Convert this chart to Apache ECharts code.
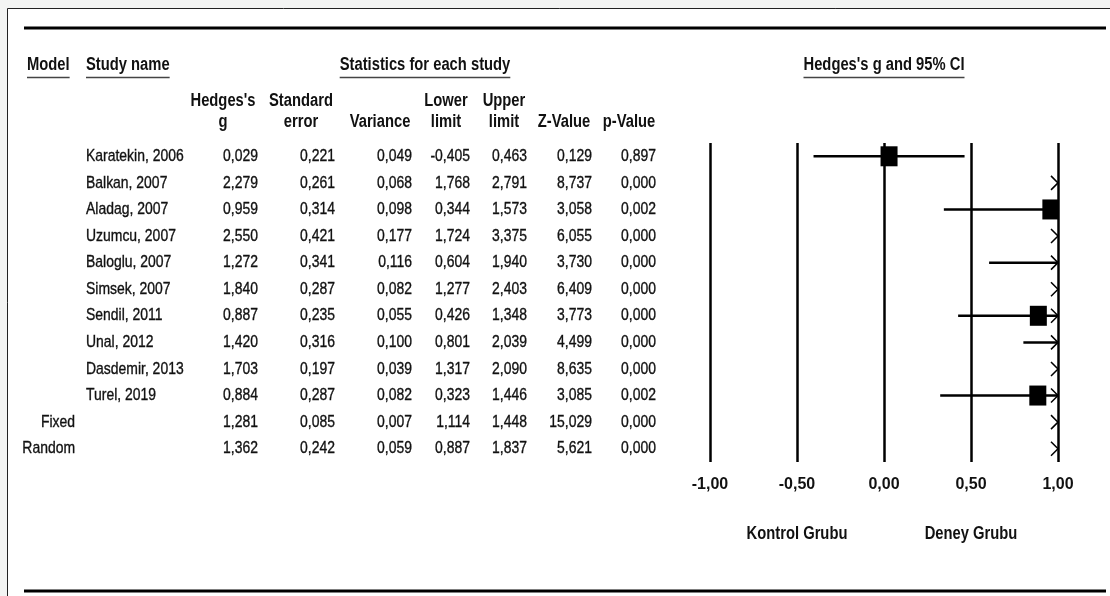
<!DOCTYPE html>
<html>
<head>
<meta charset="utf-8">
<title>Forest plot</title>
<script src="https://cdn.jsdelivr.net/npm/echarts@6/dist/echarts.min.js"></script>
<style>
  html, body { margin: 0; padding: 0; background: #f3f4f3; }
  #main { width: 1110px; height: 596px; }
</style>
</head>
<body>
<div id="main"></div>
<script>
// ---- data ----
var studies = ['Karatekin, 2006', 'Balkan, 2007', 'Aladag, 2007', 'Uzumcu, 2007', 'Baloglu, 2007',
    'Simsek, 2007', 'Sendil, 2011', 'Unal, 2012', 'Dasdemir, 2013', 'Turel, 2019'];
var models = ['Fixed', 'Random'];
var hedgesG  = [0.029, 2.279, 0.959, 2.550, 1.272, 1.840, 0.887, 1.420, 1.703, 0.884, 1.281, 1.362];
var stdErr   = [0.221, 0.261, 0.314, 0.421, 0.341, 0.287, 0.235, 0.316, 0.197, 0.287, 0.085, 0.242];
var variance = [0.049, 0.068, 0.098, 0.177, 0.116, 0.082, 0.055, 0.100, 0.039, 0.082, 0.007, 0.059];
var lowerLim = [-0.405, 1.768, 0.344, 1.724, 0.604, 1.277, 0.426, 0.801, 1.317, 0.323, 1.114, 0.887];
var upperLim = [0.463, 2.791, 1.573, 3.375, 1.940, 2.403, 1.348, 2.039, 2.090, 1.446, 1.448, 1.837];
var zValue   = [0.129, 8.737, 3.058, 6.055, 3.730, 6.409, 3.773, 4.499, 8.635, 3.085, 15.029, 5.621];
var pValue   = [0.897, 0.000, 0.002, 0.000, 0.000, 0.000, 0.000, 0.000, 0.000, 0.002, 0.000, 0.000];
var sideLabels = [{ text: 'Kontrol Grubu', at: -0.5 }, { text: 'Deney Grubu', at: 0.5 }];

// ---- layout ----
// no Arial Narrow here, so Liberation Sans squeezed horizontally stands in for it
var FONT = "'Liberation Sans', Arial, sans-serif";
var SQ = 0.82;
var INK = '#111';
var columns = [hedgesG, stdErr, variance, lowerLim, upperLim, zValue, pValue];
var colRight = [258, 335, 412, 470, 527, 592, 656];   // right edge of each number column
var headers = [
    { lines: ["Hedges's", 'g'], cx: 223 },
    { lines: ['Standard', 'error'], cx: 301 },
    { lines: ['', 'Variance'], cx: 380 },
    { lines: ['Lower', 'limit'], cx: 446 },
    { lines: ['Upper', 'limit'], cx: 504 },
    { lines: ['', 'Z-Value'], cx: 564 },
    { lines: ['', 'p-Value'], cx: 629 }
];
var rowNames = studies.concat(models);
var rowIdx = rowNames.map(function (n, i) { return [i]; });

var fmt = function (v, d) { return v.toFixed(d).replace('.', ','); };

var measure = (function () {
    var ctx = document.createElement('canvas').getContext('2d');
    return function (txt, weight, size) {
        ctx.font = weight + ' ' + size + 'px ' + FONT;
        return ctx.measureText(txt).width * SQ;
    };
})();

// text element squeezed to a narrow look, anchored at (x, y)
var narrowText = function (txt, x, y, align, bold) {
    return {
        type: 'text', x: x, y: y, scaleX: SQ, scaleY: 1,
        style: { text: txt, x: 0, y: 0, align: align, verticalAlign: 'middle',
            fontSize: bold ? 18 : 17, fontWeight: bold ? 'bold' : 'normal', fontFamily: FONT, fill: INK,
            stroke: bold ? null : INK, lineWidth: bold ? 0 : 0.35 }
    };
};

var renderTableRow = function (params, api) {
    var i = api.value(0);
    var y = api.coord([0, i])[1];
    var kids = [];
    if (i < studies.length) {
        kids.push(narrowText(rowNames[i], api.coord([86, i])[0], y, 'left', false));
    } else {
        kids.push(narrowText(rowNames[i], api.coord([75, i])[0], y, 'right', false));
    }
    for (var c = 0; c < columns.length; c++) {
        kids.push(narrowText(fmt(columns[c][i], 3), api.coord([colRight[c], i])[0], y, 'right', false));
    }
    return { type: 'group', children: kids };
};

var renderForestRow = function (params, api) {
    var i = api.value(0);
    var g = hedgesG[i], lo = lowerLim[i], hi = upperLim[i];
    var y = api.coord([0, i])[1];
    var xMin = api.coord([-1, i])[0], xMax = api.coord([1, i])[0];
    var kids = [];
    var lineStyle = { stroke: '#000', lineWidth: 2.5 };
    var summary = i >= studies.length;
    if (!summary) {
        var a = Math.max(lo, -1), b = Math.min(hi, 1);
        if (a < b) {
            kids.push({ type: 'line', shape: { x1: api.coord([a, i])[0], y1: y, x2: api.coord([b, i])[0], y2: y }, style: lineStyle });
        }
        if (g >= -1 && g <= 1) {
            var gx = api.coord([g, i])[0];
            var l = Math.max(gx - 8.5, xMin), r = Math.min(gx + 8.5, xMax);
            kids.push({ type: 'rect', shape: { x: l, y: y - 10, width: r - l, height: 20 }, style: { fill: '#000' } });
        }
    } else if (lo >= -1 && hi <= 1) {
        kids.push({ type: 'polygon', shape: { points: [[api.coord([lo, i])[0], y], [api.coord([g, i])[0], y - 8],
            [api.coord([hi, i])[0], y], [api.coord([g, i])[0], y + 8]] }, style: { fill: '#000' } });
    }
    if (hi > 1) {
        kids.push({ type: 'polyline', shape: { points: [[xMax - 7, y - 7], [xMax, y], [xMax - 7, y + 7]] },
            style: { stroke: '#000', lineWidth: 1.5, fill: null } });
    }
    if (lo < -1) {
        kids.push({ type: 'polyline', shape: { points: [[xMin + 7, y - 7], [xMin, y], [xMin + 7, y + 7]] },
            style: { stroke: '#000', lineWidth: 1.5, fill: null } });
    }
    return { type: 'group', children: kids };
};

var myChart = echarts.init(document.getElementById('main'), null, { renderer: 'canvas' });

var option = {
    backgroundColor: 'transparent',
    animation: false,
    grid: [
        { left: 0, right: 0, top: 143, bottom: 134 },
        { left: 710, right: 52, top: 143, bottom: 134 }
    ],
    xAxis: [
        { gridIndex: 0, type: 'value', min: 0, max: 1110, show: false },
        {
            gridIndex: 1, type: 'value', min: -1, max: 1, interval: 0.5,
            axisLine: { show: false }, axisTick: { show: false },
            splitLine: { show: true, lineStyle: { color: '#000', width: 2.5 } },
            axisLabel: {
                margin: 15, color: INK, fontSize: 16, fontWeight: 'bold', fontFamily: FONT,
                formatter: function (v) { return fmt(v, 2); }
            }
        }
    ],
    yAxis: [
        { gridIndex: 0, type: 'category', inverse: true, data: rowNames, show: false },
        { gridIndex: 1, type: 'category', inverse: true, data: rowNames, show: false }
    ],
    series: [
        { type: 'custom', xAxisIndex: 0, yAxisIndex: 0, data: rowIdx, renderItem: renderTableRow, silent: true },
        { type: 'custom', xAxisIndex: 1, yAxisIndex: 1, data: rowIdx, renderItem: renderForestRow, silent: true }
    ]
};
myChart.setOption(option);

// ---- static text: frame, titles, headers ----
var gfx = [];
gfx.push({ type: 'rect', z: -10, shape: { x: 7.5, y: 8.5, width: 1120, height: 600 }, style: { fill: '#fff', stroke: '#222', lineWidth: 1 } });
gfx.push({ type: 'line', shape: { x1: 24, y1: 28, x2: 1106, y2: 28 }, style: { stroke: '#000', lineWidth: 3 } });
gfx.push({ type: 'line', shape: { x1: 24, y1: 591, x2: 1106, y2: 591 }, style: { stroke: '#000', lineWidth: 3 } });

var title = function (txt, x, align) {
    var w = measure(txt, 'bold', 18);
    var left = align === 'center' ? x - w / 2 : x;
    gfx.push(narrowText(txt, x, 65, align, true));
    gfx.push({ type: 'line', shape: { x1: left, y1: 77.5, x2: left + w, y2: 77.5 }, style: { stroke: '#444', lineWidth: 1.5 } });
};
var zeroX = myChart.convertToPixel({ xAxisIndex: 1 }, 0);
title('Model', 27, 'left');
title('Study name', 86, 'left');
title('Statistics for each study', 425, 'center');
title("Hedges's g and 95% CI", zeroX, 'center');

headers.forEach(function (h) {
    h.lines.forEach(function (ln, k) {
        if (!ln) return;
        gfx.push(narrowText(ln, h.cx, k === 0 ? 101 : 122, 'center', true));
    });
});

sideLabels.forEach(function (s) {
    gfx.push(narrowText(s.text, myChart.convertToPixel({ xAxisIndex: 1 }, s.at), 534, 'center', true));
});

myChart.setOption({ graphic: gfx });
</script>
</body>
</html>
